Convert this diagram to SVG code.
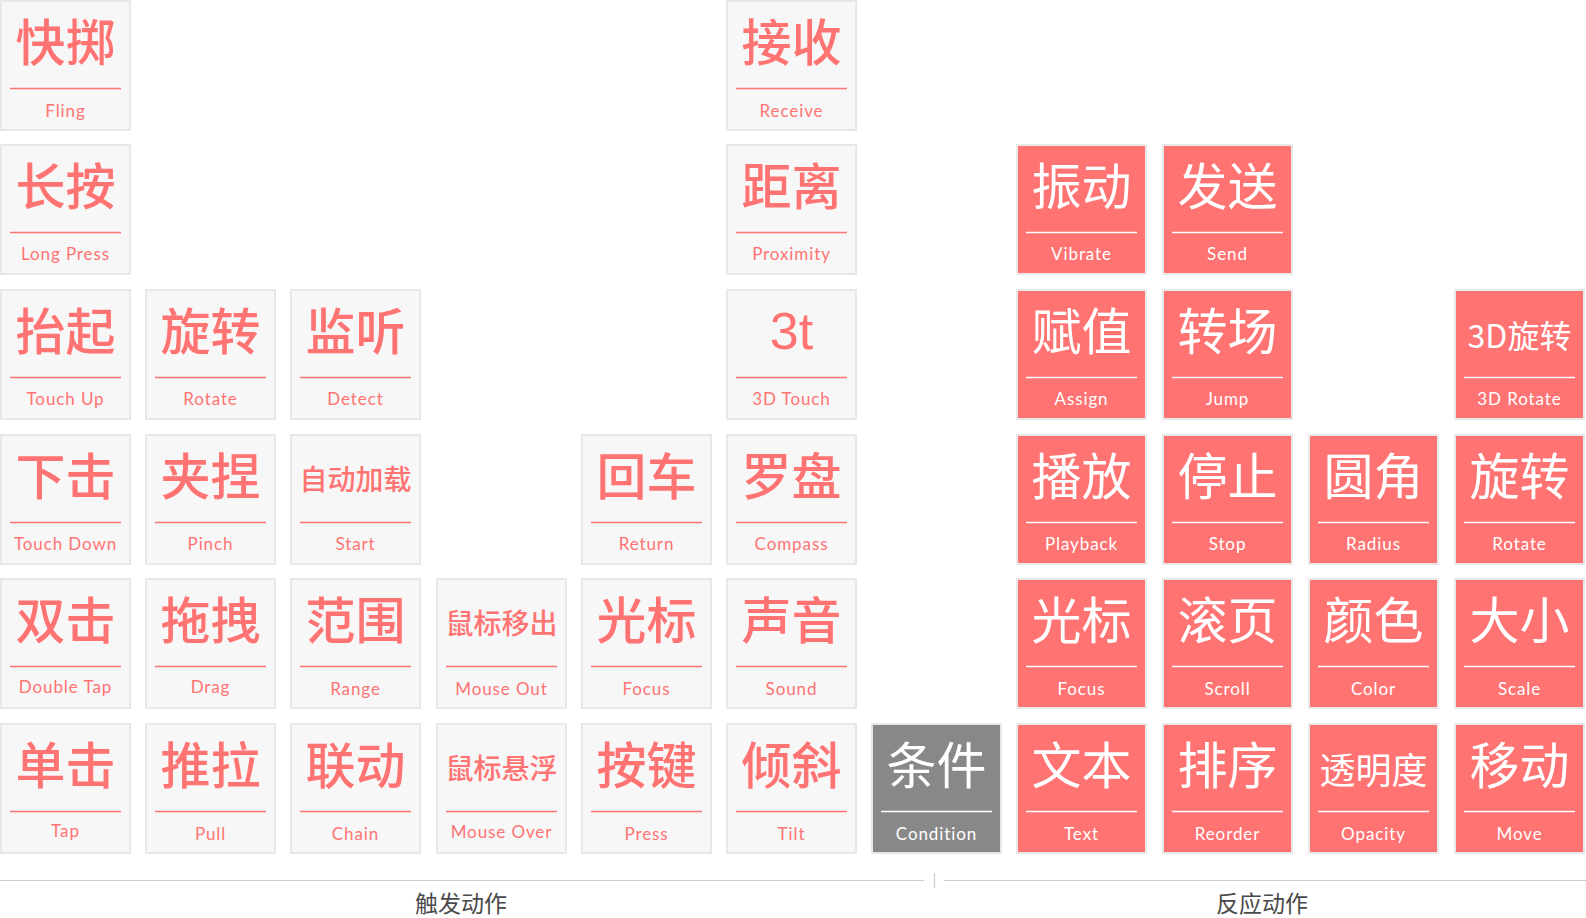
<svg xmlns="http://www.w3.org/2000/svg" width="1586" height="918" viewBox="0 0 1586 918">
<style>
.bg{fill:#ffffff}
.t use{fill:#f7f7f7;color:#ff7373}
.r use{fill:#ff7373;color:#ffffff}
.c use{fill:#888888;color:#ffffff}
.zh{font-family:"Noto Sans CJK SC","Noto Sans",sans-serif;text-anchor:middle;font-size:50px;font-weight:500}
.r .zh,.c .zh{font-weight:normal}
.zh4{font-size:28px}
.zh3{font-size:36px}
.zh3d{font-size:32px}
.num{font-family:"Liberation Sans",Arial,sans-serif;font-size:52px;font-weight:normal}
.en{font-family:Lato,"Noto Sans",sans-serif;text-anchor:middle;font-size:17px;letter-spacing:0.9px}
.t text{fill:#ff7373}
.r text,.c text{fill:#ffffff}
.axis{stroke:#cccccc;stroke-width:1.2;fill:none}
.cap{font-family:"Noto Sans CJK SC",sans-serif;font-size:23px;fill:#4a4a4a;text-anchor:middle}
</style>
<defs>
<g id="frame">
<rect x="1" y="1" width="129" height="129" stroke="#e8e8e8" stroke-width="2"/>
<line x1="10" y1="88.5" x2="121" y2="88.5" stroke="currentColor" stroke-width="1.3"/>
</g>
</defs>
<rect class="bg" x="0" y="0" width="1586" height="918"/>

<!-- trigger actions -->
<g id="fling" class="t" transform="translate(0,0)"><use href="#frame"/><text class="zh" x="65.5" y="61">快掷</text><text class="en" x="65.5" y="117">Fling</text></g>
<g id="receive" class="t" transform="translate(726,0)"><use href="#frame"/><text class="zh" x="65.5" y="61">接收</text><text class="en" x="65.5" y="117">Receive</text></g>

<g id="longpress" class="t" transform="translate(0,144)"><use href="#frame"/><text class="zh" x="65.5" y="61">长按</text><text class="en" x="65.5" y="116">Long Press</text></g>
<g id="proximity" class="t" transform="translate(726,144)"><use href="#frame"/><text class="zh" x="65.5" y="61">距离</text><text class="en" x="65.5" y="116">Proximity</text></g>

<g id="touchup" class="t" transform="translate(0,289)"><use href="#frame"/><text class="zh" x="65.5" y="61">抬起</text><text class="en" x="65.5" y="116">Touch Up</text></g>
<g id="rotate-t" class="t" transform="translate(145,289)"><use href="#frame"/><text class="zh" x="65.5" y="61">旋转</text><text class="en" x="65.5" y="116">Rotate</text></g>
<g id="detect" class="t" transform="translate(290,289)"><use href="#frame"/><text class="zh" x="65.5" y="61">监听</text><text class="en" x="65.5" y="116">Detect</text></g>
<g id="touch3d" class="t" transform="translate(726,289)"><use href="#frame"/><text class="zh num" x="65.5" y="60">3t</text><text class="en" x="65.5" y="116">3D Touch</text></g>

<g id="touchdown" class="t" transform="translate(0,434)"><use href="#frame"/><text class="zh" x="65.5" y="61">下击</text><text class="en" x="65.5" y="116">Touch Down</text></g>
<g id="pinch" class="t" transform="translate(145,434)"><use href="#frame"/><text class="zh" x="65.5" y="61">夹捏</text><text class="en" x="65.5" y="116">Pinch</text></g>
<g id="start" class="t" transform="translate(290,434)"><use href="#frame"/><text class="zh zh4" x="65.5" y="56">自动加载</text><text class="en" x="65.5" y="116">Start</text></g>
<g id="return" class="t" transform="translate(581,434)"><use href="#frame"/><text class="zh" x="65.5" y="61">回车</text><text class="en" x="65.5" y="116">Return</text></g>
<g id="compass" class="t" transform="translate(726,434)"><use href="#frame"/><text class="zh" x="65.5" y="61">罗盘</text><text class="en" x="65.5" y="116">Compass</text></g>

<g id="doubletap" class="t" transform="translate(0,578)"><use href="#frame"/><text class="zh" x="65.5" y="61">双击</text><text class="en" x="65.5" y="115">Double Tap</text></g>
<g id="drag" class="t" transform="translate(145,578)"><use href="#frame"/><text class="zh" x="65.5" y="61">拖拽</text><text class="en" x="65.5" y="115">Drag</text></g>
<g id="range" class="t" transform="translate(290,578)"><use href="#frame"/><text class="zh" x="65.5" y="61">范围</text><text class="en" x="65.5" y="117">Range</text></g>
<g id="mouseout" class="t" transform="translate(436,578)"><use href="#frame"/><text class="zh zh4" x="65.5" y="56">鼠标移出</text><text class="en" x="65.5" y="117">Mouse Out</text></g>
<g id="focus-t" class="t" transform="translate(581,578)"><use href="#frame"/><text class="zh" x="65.5" y="61">光标</text><text class="en" x="65.5" y="117">Focus</text></g>
<g id="sound" class="t" transform="translate(726,578)"><use href="#frame"/><text class="zh" x="65.5" y="61">声音</text><text class="en" x="65.5" y="117">Sound</text></g>

<g id="tap" class="t" transform="translate(0,723)"><use href="#frame"/><text class="zh" x="65.5" y="61">单击</text><text class="en" x="65.5" y="114">Tap</text></g>
<g id="pull" class="t" transform="translate(145,723)"><use href="#frame"/><text class="zh" x="65.5" y="61">推拉</text><text class="en" x="65.5" y="117">Pull</text></g>
<g id="chain" class="t" transform="translate(290,723)"><use href="#frame"/><text class="zh" x="65.5" y="61">联动</text><text class="en" x="65.5" y="117">Chain</text></g>
<g id="mouseover" class="t" transform="translate(436,723)"><use href="#frame"/><text class="zh zh4" x="65.5" y="56">鼠标悬浮</text><text class="en" x="65.5" y="115">Mouse Over</text></g>
<g id="press" class="t" transform="translate(581,723)"><use href="#frame"/><text class="zh" x="65.5" y="61">按键</text><text class="en" x="65.5" y="117">Press</text></g>
<g id="tilt" class="t" transform="translate(726,723)"><use href="#frame"/><text class="zh" x="65.5" y="61">倾斜</text><text class="en" x="65.5" y="117">Tilt</text></g>

<g id="condition" class="c" transform="translate(871,723)"><use href="#frame"/><text class="zh" x="65.5" y="61">条件</text><text class="en" x="65.5" y="117">Condition</text></g>

<!-- reaction actions -->
<g id="vibrate" class="r" transform="translate(1016,144)"><use href="#frame"/><text class="zh" x="65.5" y="61">振动</text><text class="en" x="65.5" y="116">Vibrate</text></g>
<g id="send" class="r" transform="translate(1162,144)"><use href="#frame"/><text class="zh" x="65.5" y="61">发送</text><text class="en" x="65.5" y="116">Send</text></g>

<g id="assign" class="r" transform="translate(1016,289)"><use href="#frame"/><text class="zh" x="65.5" y="61">赋值</text><text class="en" x="65.5" y="116">Assign</text></g>
<g id="jump" class="r" transform="translate(1162,289)"><use href="#frame"/><text class="zh" x="65.5" y="61">转场</text><text class="en" x="65.5" y="116">Jump</text></g>
<g id="rotate3d" class="r" transform="translate(1454,289)"><use href="#frame"/><text class="zh zh3d" x="65.5" y="59">3D旋转</text><text class="en" x="65.5" y="116">3D Rotate</text></g>

<g id="playback" class="r" transform="translate(1016,434)"><use href="#frame"/><text class="zh" x="65.5" y="61">播放</text><text class="en" x="65.5" y="116">Playback</text></g>
<g id="stop" class="r" transform="translate(1162,434)"><use href="#frame"/><text class="zh" x="65.5" y="61">停止</text><text class="en" x="65.5" y="116">Stop</text></g>
<g id="radius" class="r" transform="translate(1308,434)"><use href="#frame"/><text class="zh" x="65.5" y="61">圆角</text><text class="en" x="65.5" y="116">Radius</text></g>
<g id="rotate-r" class="r" transform="translate(1454,434)"><use href="#frame"/><text class="zh" x="65.5" y="61">旋转</text><text class="en" x="65.5" y="116">Rotate</text></g>

<g id="focus-r" class="r" transform="translate(1016,578)"><use href="#frame"/><text class="zh" x="65.5" y="61">光标</text><text class="en" x="65.5" y="117">Focus</text></g>
<g id="scroll" class="r" transform="translate(1162,578)"><use href="#frame"/><text class="zh" x="65.5" y="61">滚页</text><text class="en" x="65.5" y="117">Scroll</text></g>
<g id="color" class="r" transform="translate(1308,578)"><use href="#frame"/><text class="zh" x="65.5" y="61">颜色</text><text class="en" x="65.5" y="117">Color</text></g>
<g id="scale" class="r" transform="translate(1454,578)"><use href="#frame"/><text class="zh" x="65.5" y="61">大小</text><text class="en" x="65.5" y="117">Scale</text></g>

<g id="text" class="r" transform="translate(1016,723)"><use href="#frame"/><text class="zh" x="65.5" y="61">文本</text><text class="en" x="65.5" y="117">Text</text></g>
<g id="reorder" class="r" transform="translate(1162,723)"><use href="#frame"/><text class="zh" x="65.5" y="61">排序</text><text class="en" x="65.5" y="117">Reorder</text></g>
<g id="opacity" class="r" transform="translate(1308,723)"><use href="#frame"/><text class="zh zh3" x="65.5" y="61">透明度</text><text class="en" x="65.5" y="117">Opacity</text></g>
<g id="move" class="r" transform="translate(1454,723)"><use href="#frame"/><text class="zh" x="65.5" y="61">移动</text><text class="en" x="65.5" y="117">Move</text></g>

<!-- axis -->
<g id="connectors">
<line class="axis" x1="0" y1="880.5" x2="924" y2="880.5"/>
<line class="axis" x1="944" y1="880.5" x2="1586" y2="880.5"/>
<line class="axis" x1="934.5" y1="873" x2="934.5" y2="888"/>
</g>
<g id="labels">
<text class="cap" x="461" y="912">触发动作</text>
<text class="cap" x="1262" y="912">反应动作</text>
</g>
</svg>
